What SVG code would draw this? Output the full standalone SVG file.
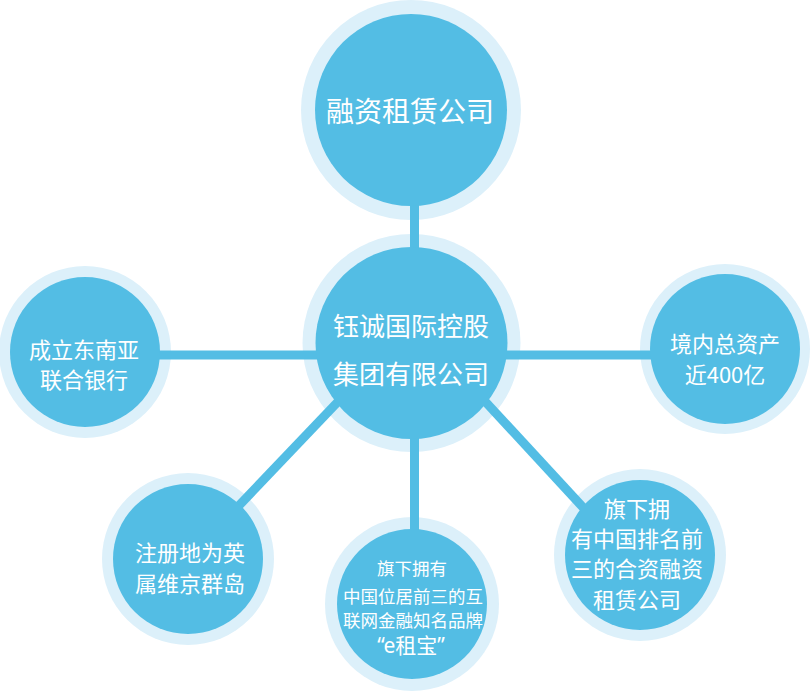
<svg xmlns="http://www.w3.org/2000/svg" width="812" height="694" viewBox="0 0 812 694">
<style>
.ring{fill:#dcf0fa}
.core{fill:#53bde4}
.ln{stroke:#53bde4;stroke-width:9;fill:none}
text{fill:#ffffff;font-family:"Noto Sans CJK SC","Noto Sans",sans-serif;text-anchor:middle;dominant-baseline:central}
.lat{font-family:"Noto Sans","Noto Sans CJK SC",sans-serif}
</style>
<rect width="812" height="694" fill="#ffffff"/>
<g id="rings">
<circle class="ring" cx="411" cy="110" r="110"/>
<circle class="ring" cx="411.5" cy="343" r="109"/>
<circle class="ring" cx="85" cy="352" r="86"/>
<circle class="ring" cx="725" cy="349" r="85"/>
<circle class="ring" cx="188" cy="559" r="86"/>
<circle class="ring" cx="412" cy="604" r="87"/>
<circle class="ring" cx="640" cy="555" r="86"/>
</g>
<g id="connectors">
<line class="ln" x1="414.5" y1="110" x2="414.5" y2="343"/>
<line class="ln" x1="414.5" y1="343" x2="414.5" y2="604"/>
<line class="ln" x1="85" y1="355" x2="725" y2="355"/>
<line class="ln" x1="393" y1="344" x2="188" y2="559"/>
<line class="ln" x1="432" y1="344" x2="627" y2="555"/>
</g>
<g id="node-top">
<circle class="core" cx="411" cy="110" r="96"/>
<text x="410" y="110" font-size="28">融资租赁公司</text>
</g>
<g id="node-center">
<circle class="core" cx="411.5" cy="343" r="96"/>
<text x="411" y="324" font-size="26">钰诚国际控股</text>
<text x="411" y="372" font-size="26">集团有限公司</text>
</g>
<g id="node-left">
<circle class="core" cx="85" cy="352" r="75"/>
<text x="84" y="348" font-size="22">成立东南亚</text>
<text x="84" y="378" font-size="22">联合银行</text>
</g>
<g id="node-right">
<circle class="core" cx="725" cy="349" r="75"/>
<text x="725" y="342" font-size="22">境内总资产</text>
<text x="725" y="373" font-size="22">近400亿</text>
</g>
<g id="node-bottom-left">
<circle class="core" cx="188" cy="559" r="75"/>
<text x="190" y="551" font-size="22">注册地为英</text>
<text x="190" y="582" font-size="22">属维京群岛</text>
</g>
<g id="node-bottom-center">
<circle class="core" cx="412" cy="604" r="75"/>
<text x="412" y="567" font-size="17.5">旗下拥有</text>
<text x="413" y="595" font-size="17.5">中国位居前三的互</text>
<text x="413" y="619.5" font-size="17.5">联网金融知名品牌</text>
<text x="411" y="645" font-size="21" class="lat">“e租宝”</text>
</g>
<g id="node-bottom-right">
<circle class="core" cx="640" cy="555" r="75"/>
<text x="637" y="507" font-size="22">旗下拥</text>
<text x="637" y="537" font-size="22">有中国排名前</text>
<text x="637" y="567" font-size="22">三的合资融资</text>
<text x="637" y="598" font-size="22">租赁公司</text>
</g>
</svg>
